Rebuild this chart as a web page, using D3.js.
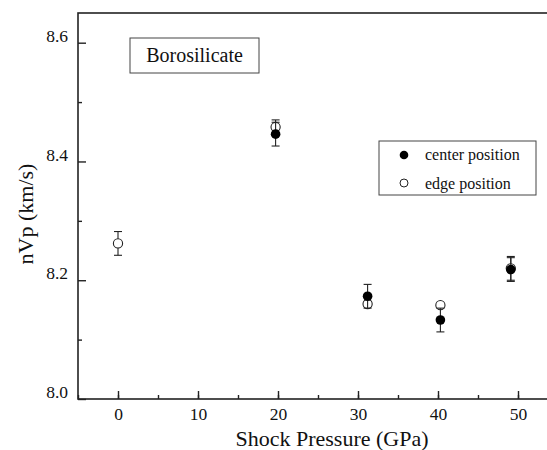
<!DOCTYPE html>
<html>
<head>
<meta charset="utf-8">
<script src="https://cdn.jsdelivr.net/npm/d3@7"></script>
<style>
  body { margin: 0; background: #fff; }
  svg { display: block; }
  svg text { font-family: 'Liberation Serif', 'DejaVu Serif', serif; }
</style>
</head>
<body>
<script>
// shock pressure (GPa) and nVp (km/s)
const pressure = [0, 19.7, 31.2, 40.3, 49.1];
const center = [null, 8.446, 8.173, 8.133, 8.218];
const centerErr = [null, 0.02, 0.02, 0.02, 0.02];
const edge = [8.262, 8.458, 8.160, 8.158, 8.220];
const edgeErr = [0.02, 0.012, 0, 0, 0.02];
const xTicks = [0, 10, 20, 30, 40, 50];
const yTicks = [8.0, 8.2, 8.4, 8.6];

const W = 547, H = 450;
const margin = {top: 13, left: 78, bottom: 51};
const FONT = "'Liberation Serif', 'DejaVu Serif', serif";

const svg = d3.select('body').append('svg')
  .attr('width', W)
  .attr('height', H)
  .attr('font-family', FONT);

const x = d3.scaleLinear().domain([-5, 55]).range([margin.left, margin.left + 480]);
const y = d3.scaleLinear().domain([8.0, 8.65]).range([H - margin.bottom, margin.top]);

const ink = '#222';

// frame (right side falls outside the picture)
svg.append('rect')
  .attr('x', x(-5)).attr('y', y(8.65))
  .attr('width', x(55) - x(-5)).attr('height', y(8.0) - y(8.65))
  .attr('fill', 'none').attr('stroke', ink).attr('stroke-width', 1.6);

const serif = g => {
  g.attr('font-family', FONT).attr('font-size', 17.5);
  g.selectAll('text').attr('font-family', FONT).attr('fill', '#111');
};

// x axis, ticks pointing inward
const xMinor = svg.append('g').attr('transform', `translate(0,${y(8.0)})`)
  .call(d3.axisBottom(x).tickValues(d3.range(-5, 56, 5)).tickSize(-4).tickFormat(''))
  .call(g => g.select('.domain').remove());
const xAxis = svg.append('g').attr('transform', `translate(0,${y(8.0)})`)
  .call(d3.axisBottom(x).tickValues(xTicks).tickSize(-8).tickFormat(d3.format('d')).tickPadding(9))
  .call(g => g.select('.domain').remove())
  .call(serif);
[xMinor, xAxis].forEach(g => g.selectAll('line').attr('stroke', ink).attr('stroke-width', 1.4));

// y axis
const yMinor = svg.append('g').attr('transform', `translate(${x(-5)},0)`)
  .call(d3.axisLeft(y).tickValues([8.1, 8.3, 8.5]).tickSize(-4).tickFormat(''))
  .call(g => g.select('.domain').remove());
const yAxis = svg.append('g').attr('transform', `translate(${x(-5)},0)`)
  .call(d3.axisLeft(y).tickValues(yTicks).tickSize(-8).tickFormat(d3.format('.1f')).tickPadding(10))
  .call(g => g.select('.domain').remove())
  .call(serif);
[yMinor, yAxis].forEach(g => g.selectAll('line').attr('stroke', ink).attr('stroke-width', 1.4));
yAxis.selectAll('text').attr('dy', '-0.08em');

// axis titles
svg.append('text')
  .attr('x', 332).attr('y', 446)
  .attr('text-anchor', 'middle').attr('font-size', 22).attr('fill', '#111')
  .text('Shock Pressure (GPa)');
svg.append('text')
  .attr('transform', 'translate(33,214) rotate(-90)')
  .attr('text-anchor', 'middle').attr('font-size', 22).attr('fill', '#111')
  .text('nVp (km/s)');

// error bars
function errorBars(vals, errs) {
  const rows = pressure.map((p, i) => ({p, v: vals[i], e: errs[i]}))
    .filter(d => d.v != null && d.e > 0);
  const g = svg.append('g').attr('stroke', ink).attr('stroke-width', 1.1);
  rows.forEach(d => {
    g.append('line').attr('x1', x(d.p)).attr('x2', x(d.p))
      .attr('y1', y(d.v - d.e)).attr('y2', y(d.v + d.e));
    [d.v - d.e, d.v + d.e].forEach(v => {
      g.append('line').attr('x1', x(d.p) - 4).attr('x2', x(d.p) + 4)
        .attr('y1', y(v)).attr('y2', y(v));
    });
  });
}

errorBars(edge, edgeErr);
svg.append('g').selectAll('circle')
  .data(pressure.map((p, i) => ({p, v: edge[i]})))
  .join('circle')
  .attr('cx', d => x(d.p)).attr('cy', d => y(d.v)).attr('r', 4.6)
  .attr('fill', '#fff').attr('stroke', ink).attr('stroke-width', 1.1);

errorBars(center, centerErr);
svg.append('g').selectAll('circle')
  .data(pressure.map((p, i) => ({p, v: center[i]})).filter(d => d.v != null))
  .join('circle')
  .attr('cx', d => x(d.p)).attr('cy', d => y(d.v)).attr('r', 4.8)
  .attr('fill', '#000');

// sample label
svg.append('rect')
  .attr('x', 130).attr('y', 38).attr('width', 129).attr('height', 35)
  .attr('fill', '#fff').attr('stroke', '#444').attr('stroke-width', 1);
svg.append('text')
  .attr('x', 194.5).attr('y', 62).attr('text-anchor', 'middle')
  .attr('font-size', 20).attr('fill', '#111')
  .text('Borosilicate');

// legend
const legend = svg.append('g');
legend.append('rect')
  .attr('x', 379).attr('y', 141).attr('width', 157).attr('height', 54)
  .attr('fill', '#fff').attr('stroke', '#444').attr('stroke-width', 1);
legend.append('circle').attr('cx', 404).attr('cy', 155).attr('r', 4.3).attr('fill', '#000');
legend.append('circle').attr('cx', 404).attr('cy', 183).attr('r', 4)
  .attr('fill', '#fff').attr('stroke', ink).attr('stroke-width', 1);
legend.append('text').attr('x', 425).attr('y', 160).attr('font-size', 16).attr('fill', '#111')
  .text('center position');
legend.append('text').attr('x', 425).attr('y', 189).attr('font-size', 16).attr('fill', '#111')
  .text('edge position');
</script>
</body>
</html>
